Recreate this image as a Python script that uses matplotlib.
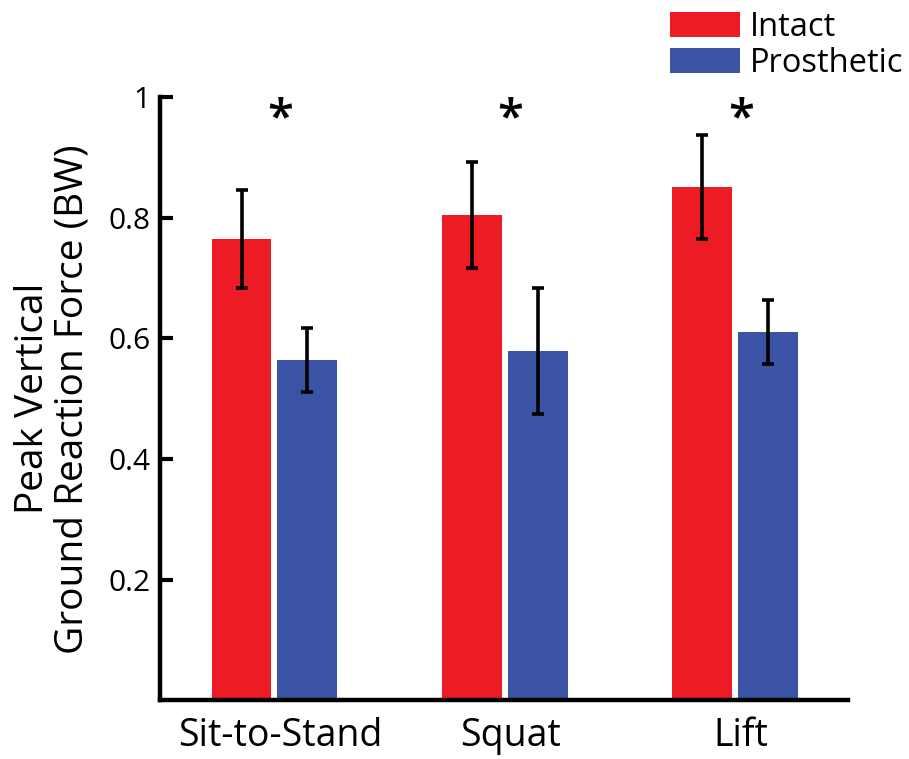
import matplotlib.pyplot as plt
import numpy as np

plt.rcParams['font.family'] = ['Open Sans', 'DejaVu Sans']

tasks = ['Sit-to-Stand', 'Squat', 'Lift']
intact = [0.765, 0.804, 0.851]
intact_err = [0.081, 0.088, 0.086]
prosthetic = [0.564, 0.579, 0.610]
prosthetic_err = [0.053, 0.105, 0.053]
signif = ['*', '*', '*']

red = '#ED1C24'
blue = '#3A53A4'

x = np.arange(len(tasks))
w = 0.26
off = 0.143

fig = plt.figure(figsize=(9.09, 7.59), dpi=100)
ax = fig.add_axes([0.176, 0.0771, 0.757, 0.7951])

err_kw = dict(elinewidth=2.6, capsize=4, capthick=2.6, ecolor='black')
b1 = ax.bar(x - off, intact, w, color=red, yerr=intact_err, error_kw=err_kw, label='Intact')
b2 = ax.bar(x + off, prosthetic, w, color=blue, yerr=prosthetic_err, error_kw=err_kw, label='Prosthetic')

# significance markers above each pair
for i, s in enumerate(signif):
    ax.text(x[i] + 0.025, 0.962, s, ha='center', va='center', fontsize=34, fontweight='semibold')

ax.set_xlim(-0.497, 2.491)
ax.set_ylim(0, 1)
ax.set_xticks(x + 0.025)
ax.set_xticklabels(tasks, fontsize=27)
ax.tick_params(axis='x', length=0, pad=12)
ax.set_yticks([0.2, 0.4, 0.6, 0.8, 1.0])
ax.set_yticklabels(['0.2', '0.4', '0.6', '0.8', '1'], fontsize=21.5)
ax.tick_params(axis='y', direction='in', length=9, width=3, pad=7)

for side in ['top', 'right']:
    ax.spines[side].set_visible(False)
for side in ['left', 'bottom']:
    ax.spines[side].set_linewidth(3.2)

ax.set_ylabel('Peak Vertical\nGround Reaction Force (BW)', fontsize=28, linespacing=1.05, labelpad=12)

fig.legend(handles=[b1, b2], loc='upper left', bbox_to_anchor=(0.737, 0.986),
           frameon=False, fontsize=23.5, handlelength=2.15, handleheight=0.8,
           handletextpad=0.3, labelspacing=0.1, borderpad=0, borderaxespad=0)

fig.savefig('out.png', dpi=100)
